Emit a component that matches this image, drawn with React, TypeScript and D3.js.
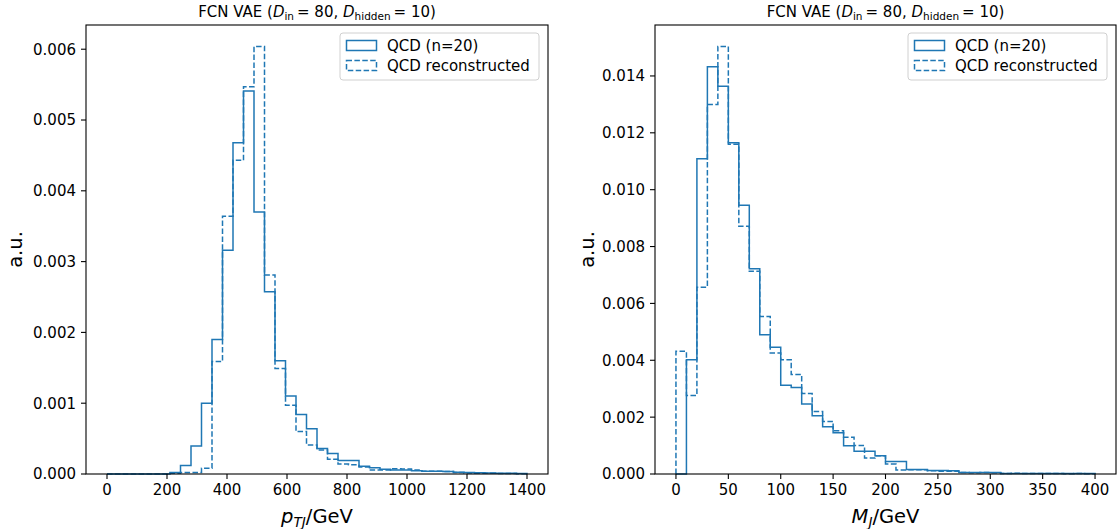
import React from "react";
import * as d3 from "d3";

// ---------- data ----------
// Left panel: p_TJ histogram, 40 bins of 35 GeV from 0 to 1400 (values in a.u.)
const PT_BIN_START = 0;
const PT_BIN_WIDTH = 35;
const ptOriginal = [
  0, 0, 0, 0, 0, 0, 0.00002, 0.00012, 0.000395, 0.001,
  0.0019, 0.00316, 0.00468, 0.00541, 0.0037, 0.002575, 0.0016, 0.0011, 0.00084, 0.00064,
  0.00036, 0.00029, 0.00019, 0.00019, 0.00011, 0.00009, 0.000066, 0.000056, 0.000056, 0.000047,
  0.000038, 0.000038, 0.000035, 0.000024, 0.00002, 0.000018, 0.000015, 0.000012, 0.00001, 0.000008,
];
const ptReco = [
  0, 0, 0, 0, 0, 0, 0.00001, 0.00002, 0.00002, 0.00008,
  0.00159, 0.00364, 0.00443, 0.00547, 0.00604, 0.00281, 0.00149, 0.00097, 0.0006, 0.00041,
  0.00034, 0.00021, 0.00014, 0.00013, 0.0001, 0.000056, 0.000056, 0.000075, 0.00007, 0.000056,
  0.00004, 0.000038, 0.000035, 0.00002, 0.000015, 0.000012, 0.00001, 0.000008, 0.000006, 0.000005,
];
const ptXTicks = [0, 200, 400, 600, 800, 1000, 1200, 1400];
const ptYTicks = [0, 0.001, 0.002, 0.003, 0.004, 0.005, 0.006];

// Right panel: M_J histogram, 40 bins of 10 GeV from 0 to 400
const M_BIN_START = 0;
const M_BIN_WIDTH = 10;
const mOriginal = [
  0, 0.00402, 0.01109, 0.01432, 0.01364, 0.01165, 0.00945, 0.00722, 0.0049, 0.00446,
  0.00312, 0.00304, 0.00246, 0.00205, 0.00166, 0.00145, 0.00099, 0.0008, 0.0008, 0.00064,
  0.00044, 0.00044, 0.00016, 0.00016, 0.00012, 0.00012, 0.00011, 0.000056, 0.000056, 0.00005,
  0.00005, 0.00002, 0.00002, 0.00002, 0.00002, 0.00002, 0.000015, 0.000015, 0.000015, 0.000015,
];
const mReco = [
  0.00432, 0.00276, 0.00657, 0.013, 0.01504, 0.0116, 0.00871, 0.00713, 0.00554, 0.00426,
  0.00402, 0.0035, 0.00283, 0.0022, 0.00185, 0.00152, 0.00129, 0.001, 0.00056, 0.00064,
  0.00035, 0.00014, 0.00015, 0.00015, 0.00011, 0.0001, 0.0001, 0.00005, 0.00004, 0.00005,
  0.00004, 0.00002, 0.000025, 0.000015, 0.00002, 0.000015, 0.00002, 0.00001, 0.000015, 0.00001,
];
const mXTicks = [0, 50, 100, 150, 200, 250, 300, 350, 400];
const mYTicks = [0, 0.002, 0.004, 0.006, 0.008, 0.01, 0.012, 0.014];

const legendLabels = ["QCD (n=20)", "QCD reconstructed"];

// ---------- style ----------
const W = 1117;
const H = 529;
const COLOR = "#1f77b4";
const FONT = "'DejaVu Sans', sans-serif";
const TICK_FS = 15;
const LABEL_FS = 19.5;
const TITLE_FS = 15;
const LEGEND_FS = 15;

type PanelProps = {
  x0: number;
  x1: number;
  y0: number;
  y1: number;
  binStart: number;
  binWidth: number;
  original: number[];
  reco: number[];
  xTicks: number[];
  yTicks: number[];
  yLabelX: number;
  xLabel: React.ReactNode;
};

function stepPath(
  values: number[],
  start: number,
  width: number,
  xs: d3.ScaleLinear<number, number>,
  ys: d3.ScaleLinear<number, number>
) {
  const pts: [number, number][] = [];
  const n = values.length;
  pts.push([xs(start), ys(0)]);
  for (let i = 0; i < n; i++) {
    const a = start + i * width;
    const b = a + width;
    pts.push([xs(a), ys(values[i])]);
    pts.push([xs(b), ys(values[i])]);
  }
  pts.push([xs(start + n * width), ys(0)]);
  return d3.line()(pts) || "";
}

function Title({ cx }: { cx: number }) {
  return (
    <text x={cx} y={17} textAnchor="middle" fontFamily={FONT} fontSize={TITLE_FS} fill="#000">
      <tspan>FCN VAE (</tspan>
      <tspan fontStyle="italic">D</tspan>
      <tspan fontSize={TITLE_FS * 0.7} dy={3}>in</tspan>
      <tspan dy={-3}>{"\u2009= 80, "}</tspan>
      <tspan fontStyle="italic">D</tspan>
      <tspan fontSize={TITLE_FS * 0.7} dy={3}>hidden</tspan>
      <tspan dy={-3}>{"\u2009= 10)"}</tspan>
    </text>
  );
}

function Panel(p: PanelProps) {
  const nBins = p.original.length;
  const dataMin = p.binStart;
  const dataMax = p.binStart + nBins * p.binWidth;
  const pad = (dataMax - dataMin) * 0.05;
  const xs = d3.scaleLinear().domain([dataMin - pad, dataMax + pad]).range([p.x0, p.x1]);
  const yMax = (d3.max([...p.original, ...p.reco]) || 1) * 1.05;
  const ys = d3.scaleLinear().domain([0, yMax]).range([p.y1, p.y0]);
  const cx = (p.x0 + p.x1) / 2;
  const cy = (p.y0 + p.y1) / 2;
  const tickLen = 5;
  const tickPad = 5;
  const fmtY = (v: number) => v.toFixed(3);

  // legend geometry
  const lgW = 199;
  const lgH = 47;
  const lgX = p.x1 - 9 - lgW;
  const lgY = p.y0 + 8;

  return (
    <g>
      <Title cx={cx} />
      <path
        d={stepPath(p.original, p.binStart, p.binWidth, xs, ys)}
        fill="none"
        stroke={COLOR}
        strokeWidth={1.5}
      />
      <path
        d={stepPath(p.reco, p.binStart, p.binWidth, xs, ys)}
        fill="none"
        stroke={COLOR}
        strokeWidth={1.5}
        strokeDasharray="5.5,2.4"
      />
      <rect
        x={p.x0}
        y={p.y0}
        width={p.x1 - p.x0}
        height={p.y1 - p.y0}
        fill="none"
        stroke="#000"
        strokeWidth={1.1}
      />
      {p.xTicks.map((t) => (
        <g key={"x" + t}>
          <line x1={xs(t)} x2={xs(t)} y1={p.y1} y2={p.y1 + tickLen} stroke="#000" strokeWidth={1.1} />
          <text
            x={xs(t)}
            y={p.y1 + tickLen + tickPad + TICK_FS * 0.76}
            textAnchor="middle"
            fontFamily={FONT}
            fontSize={TICK_FS}
            fill="#000"
          >
            {t}
          </text>
        </g>
      ))}
      {p.yTicks.map((t) => (
        <g key={"y" + t}>
          <line x1={p.x0 - tickLen} x2={p.x0} y1={ys(t)} y2={ys(t)} stroke="#000" strokeWidth={1.1} />
          <text
            x={p.x0 - tickLen - tickPad}
            y={ys(t) + TICK_FS * 0.36}
            textAnchor="end"
            fontFamily={FONT}
            fontSize={TICK_FS}
            fill="#000"
          >
            {fmtY(t)}
          </text>
        </g>
      ))}
      <text
        transform={`translate(${p.yLabelX},${cy}) rotate(-90)`}
        textAnchor="middle"
        fontFamily={FONT}
        fontSize={LABEL_FS}
        fill="#000"
      >
        a.u.
      </text>
      <text x={cx} y={523} textAnchor="middle" fontFamily={FONT} fontSize={LABEL_FS} fill="#000">
        {p.xLabel}
      </text>
      <rect
        x={lgX}
        y={lgY}
        width={lgW}
        height={lgH}
        rx={3}
        fill="#fff"
        fillOpacity={0.8}
        stroke="#d0d0d0"
        strokeWidth={1}
      />
      {legendLabels.map((lab, i) => {
        const rowC = lgY + 12.5 + i * 20;
        return (
          <g key={lab}>
            <rect
              x={lgX + 6.5}
              y={rowC - 5}
              width={30}
              height={10}
              fill="none"
              stroke={COLOR}
              strokeWidth={1.5}
              strokeDasharray={i === 1 ? "5.5,2.4" : undefined}
            />
            <text x={lgX + 47} y={rowC + 5.3} fontFamily={FONT} fontSize={LEGEND_FS} fill="#000">
              {lab}
            </text>
          </g>
        );
      })}
    </g>
  );
}

export default function App() {
  const ptLabel = (
    <>
      <tspan fontStyle="italic">p</tspan>
      <tspan fontStyle="italic" fontSize={LABEL_FS * 0.7} dy={3.5}>TJ</tspan>
      <tspan dy={-3.5}>/GeV</tspan>
    </>
  );
  const mLabel = (
    <>
      <tspan fontStyle="italic">M</tspan>
      <tspan fontStyle="italic" fontSize={LABEL_FS * 0.7} dy={3.5}>J</tspan>
      <tspan dy={-3.5}>/GeV</tspan>
    </>
  );
  return (
    <svg
      width={W}
      height={H}
      viewBox={`0 0 ${W} ${H}`}
      style={{ position: "absolute", left: 0, top: 0, background: "#fff" }}
    >
      <rect x={0} y={0} width={W} height={H} fill="#fff" />
      <Panel
        x0={86}
        x1={548}
        y0={25}
        y1={474}
        binStart={PT_BIN_START}
        binWidth={PT_BIN_WIDTH}
        original={ptOriginal}
        reco={ptReco}
        xTicks={ptXTicks}
        yTicks={ptYTicks}
        yLabelX={22}
        xLabel={ptLabel}
      />
      <Panel
        x0={655}
        x1={1116}
        y0={25}
        y1={474}
        binStart={M_BIN_START}
        binWidth={M_BIN_WIDTH}
        original={mOriginal}
        reco={mReco}
        xTicks={mXTicks}
        yTicks={mYTicks}
        yLabelX={594}
        xLabel={mLabel}
      />
    </svg>
  );
}
